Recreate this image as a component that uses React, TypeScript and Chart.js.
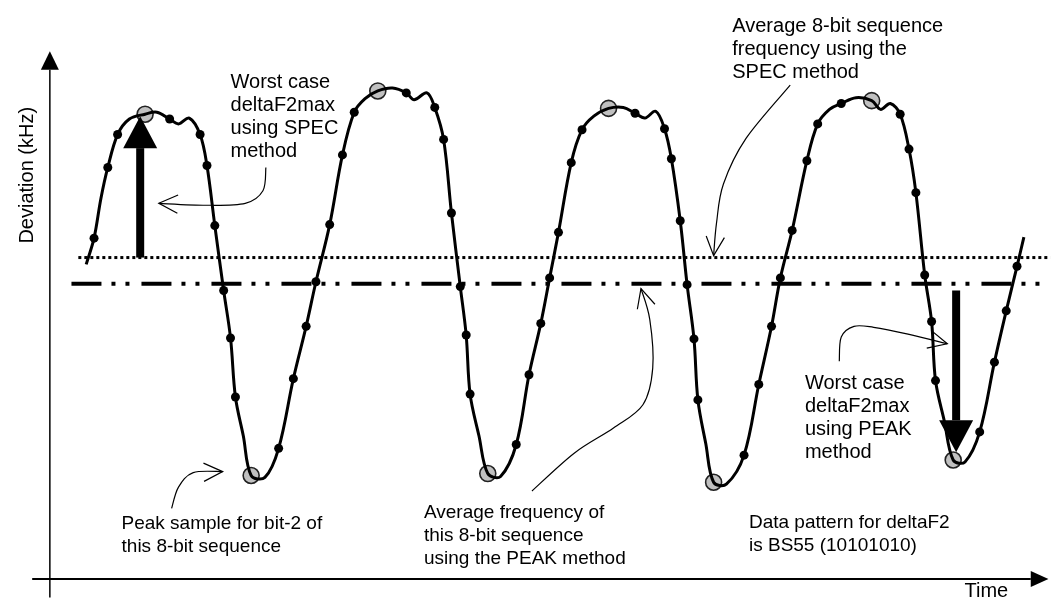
import React, { useEffect, useRef } from "react";
import { Chart, registerables } from "chart.js";

Chart.register(...registerables);

// ---- Data (time in arbitrary units from the Y axis, deviation relative to PEAK average) ----
const sampleTime = [45, 59, 69, 122, 153, 160, 168, 177, 184, 189, 233, 248, 261, 271, 285, 298, 310, 363, 392, 401, 409, 418, 424, 428, 475, 488, 500, 509, 518, 531, 542, 596, 626, 633, 642, 649, 656, 660, 707, 722, 735, 744, 756, 771, 782, 806, 866, 875, 882, 891, 898, 902, 947, 962, 974, 985];
const sampleDev = [47, 120, 154, 170, 154, 122, 60, -7, -56, -117, -170, -98, -44, 2, 61, 133, 177, 197, 182, 149, 73, -3, -53, -114, -166, -94, -41, 6, 53, 125, 159, 176, 160, 129, 65, -1, -57, -120, -177, -104, -44, 6, 55, 127, 165, 186, 175, 139, 94, 9, -39, -100, -153, -81, -28, 18];

const peakTime = [97, 205, 334, 446, 569, 676, 837, 920];
const peakDev = [175, -198, 199, -196, 181, -205, 189, -182];

const shapeTime = [37, 52, 81, 109, 131, 142, 197, 219, 321, 349, 371, 384, 437, 459, 554, 584, 606, 617, 668, 689, 794, 821, 846, 856, 911, 932, 992];
const shapeDev = [20, 88, 170, 177, 165, 171, -157, -200, 191, 202, 190, 197, -157, -199, 173, 182, 171, 178, -165, -207, 180, 192, 180, 186, -142, -184, 48];

const specAverage = 27;
const peakAverage = 0;
const specLineStart = 29;
const peakLineStart = 22;
const timeMax = 1019;

const yAxisTitle = "Deviation (kHz)";
const xAxisTitle = "Time";

const specArrow = { time: 92, from: 27, to: 173 };
const peakArrow = { time: 923, from: -7, to: -174 };

const notes = [
  { lines: ["Worst case", "deltaF2max", "using SPEC", "method"], t: 184, d: 208, size: 20 },
  { lines: ["Average 8-bit sequence", "frequency using the", "SPEC method"], t: 695, d: 266, size: 20 },
  { lines: ["Worst case", "deltaF2max", "using PEAK", "method"], t: 769, d: -103, size: 20 },
  { lines: ["Peak sample for bit-2 of", "this 8-bit sequence"], t: 73, d: -248, size: 19 },
  { lines: ["Average frequency of", "this 8-bit sequence", "using the PEAK method"], t: 381, d: -237, size: 19 },
  { lines: ["Data pattern for deltaF2", "is BS55 (10101010)"], t: 712, d: -247, size: 19 },
];

const leaders = [
  [[220, 120], [217, 96], [199, 83], [159, 81], [111, 83]],
  [[754, 205], [709, 150], [686, 103], [679, 63], [676, 29]],
  [[124, -232], [131, -210], [146, -195], [176, -194]],
  [[491, -214], [534, -175], [574, -149], [604, -125], [614, -87], [611, -37], [602, -5]],
  [[804, -80], [806, -55], [819, -44], [839, -45], [874, -52], [914, -62]],
];

const FAMILY = "'Liberation Sans', Arial, Helvetica, sans-serif";

const overlay = {
  id: "overlay",
  afterDatasetsDraw(chart: any) {
    const { ctx, scales } = chart;
    const X = (t: number) => scales.x.getPixelForValue(t);
    const Y = (d: number) => scales.y.getPixelForValue(d);
    ctx.save();
    ctx.strokeStyle = "#000";
    ctx.fillStyle = "#000";

    // Y axis
    ctx.lineWidth = 1.5;
    ctx.beginPath();
    ctx.moveTo(X(0), Y(-324));
    ctx.lineTo(X(0), Y(221));
    ctx.stroke();
    ctx.beginPath();
    ctx.moveTo(X(0), Y(240));
    ctx.lineTo(X(0) - 9, Y(221));
    ctx.lineTo(X(0) + 9, Y(221));
    ctx.closePath();
    ctx.fill();

    // X axis
    ctx.lineWidth = 2;
    ctx.beginPath();
    ctx.moveTo(X(-18), Y(-305));
    ctx.lineTo(X(999), Y(-305));
    ctx.stroke();
    ctx.beginPath();
    ctx.moveTo(X(1017), Y(-305));
    ctx.lineTo(X(999), Y(-305) - 8);
    ctx.lineTo(X(999), Y(-305) + 8);
    ctx.closePath();
    ctx.fill();

    // thick arrows
    const thick = (a: { time: number; from: number; to: number }) => {
      const px = X(a.time);
      const y0 = Y(a.from);
      const y1 = Y(a.to);
      const dir = y1 < y0 ? -1 : 1;
      const headLen = 32;
      const base = y1 - dir * headLen;
      ctx.fillRect(px - 4, Math.min(y0, base), 8, Math.abs(base - y0));
      ctx.beginPath();
      ctx.moveTo(px, y1);
      ctx.lineTo(px - 17, base);
      ctx.lineTo(px + 17, base);
      ctx.closePath();
      ctx.fill();
    };
    thick(specArrow);
    thick(peakArrow);

    // leaders
    ctx.lineWidth = 1.2;
    leaders.forEach((ptsData) => {
      const pts = ptsData.map(([t, d]) => [X(t), Y(d)]);
      ctx.beginPath();
      ctx.moveTo(pts[0][0], pts[0][1]);
      for (let i = 0; i < pts.length - 1; i++) {
        const p0 = pts[i - 1] || pts[i];
        const p1 = pts[i];
        const p2 = pts[i + 1];
        const p3 = pts[i + 2] || p2;
        ctx.bezierCurveTo(
          p1[0] + (p2[0] - p0[0]) / 6,
          p1[1] + (p2[1] - p0[1]) / 6,
          p2[0] - (p3[0] - p1[0]) / 6,
          p2[1] - (p3[1] - p1[1]) / 6,
          p2[0],
          p2[1]
        );
      }
      ctx.stroke();
      const tip = pts[pts.length - 1];
      const prev = pts[pts.length - 2];
      const ang = Math.atan2(tip[1] - prev[1], tip[0] - prev[0]);
      const L = 21;
      const spread = 0.45;
      ctx.beginPath();
      ctx.moveTo(tip[0] - L * Math.cos(ang - spread), tip[1] - L * Math.sin(ang - spread));
      ctx.lineTo(tip[0], tip[1]);
      ctx.lineTo(tip[0] - L * Math.cos(ang + spread), tip[1] - L * Math.sin(ang + spread));
      ctx.stroke();
    });

    // texts
    ctx.textBaseline = "middle";
    ctx.textAlign = "left";
    notes.forEach((n) => {
      ctx.font = `${n.size}px ${FAMILY}`;
      n.lines.forEach((line, i) => {
        ctx.fillText(line, X(n.t), Y(n.d) + i * 23);
      });
    });

    ctx.font = `20px ${FAMILY}`;
    ctx.textAlign = "right";
    ctx.fillText(xAxisTitle, X(976), Y(-318));

    ctx.save();
    ctx.translate(X(-23), Y(112));
    ctx.rotate(-Math.PI / 2);
    ctx.textAlign = "center";
    ctx.fillText(yAxisTitle, 0, 0);
    ctx.restore();

    ctx.restore();
  },
};

export default function App() {
  const ref = useRef<HTMLCanvasElement | null>(null);
  useEffect(() => {
    document.body.style.margin = "0";
    const canvas = ref.current;
    if (!canvas) return;

    const curve = [
      ...sampleTime.map((t, i) => ({ x: t, y: sampleDev[i] })),
      ...peakTime.map((t, i) => ({ x: t, y: peakDev[i] })),
      ...shapeTime.map((t, i) => ({ x: t, y: shapeDev[i] })),
    ].sort((a, b) => a.x - b.x);

    const chart = new Chart(canvas, {
      type: "line",
      data: {
        datasets: [
          {
            data: [
              { x: specLineStart, y: specAverage },
              { x: timeMax, y: specAverage },
            ],
            borderColor: "#000",
            borderWidth: 3,
            borderDash: [3, 3],
            pointRadius: 0,
            borderCapStyle: "butt",
          },
          {
            data: [
              { x: peakLineStart, y: peakAverage },
              { x: timeMax, y: peakAverage },
            ],
            borderColor: "#000",
            borderWidth: 4,
            borderDash: [30, 10, 4, 10, 4, 12],
            pointRadius: 0,
            borderCapStyle: "butt",
          },
          {
            data: curve,
            borderColor: "#000",
            borderWidth: 3,
            tension: 0.35,
            pointRadius: 0,
            fill: false,
          },
          {
            data: sampleTime.map((t, i) => ({ x: t, y: sampleDev[i] })),
            showLine: false,
            pointRadius: 4.5,
            pointBackgroundColor: "#000",
            pointBorderColor: "#000",
            pointBorderWidth: 0,
          },
          {
            data: peakTime.map((t, i) => ({ x: t, y: peakDev[i] })),
            showLine: false,
            pointRadius: 8,
            pointBackgroundColor: "#c0c0c0",
            pointBorderColor: "#222",
            pointBorderWidth: 1.6,
          },
        ],
      },
      options: {
        animation: false,
        responsive: false,
        maintainAspectRatio: false,
        layout: { padding: 0 },
        plugins: { legend: { display: false }, tooltip: { enabled: false }, title: { display: false } },
        scales: {
          x: { type: "linear", min: -41, max: 1019, display: false },
          y: { type: "linear", min: -328, max: 283, display: false },
        },
      },
      plugins: [overlay],
    } as any);
    return () => chart.destroy();
  }, []);

  return (
    <div style={{ width: 1060, height: 611, background: "#fff" }}>
      <canvas ref={ref} width={1060} height={611} style={{ display: "block" }} />
    </div>
  );
}
